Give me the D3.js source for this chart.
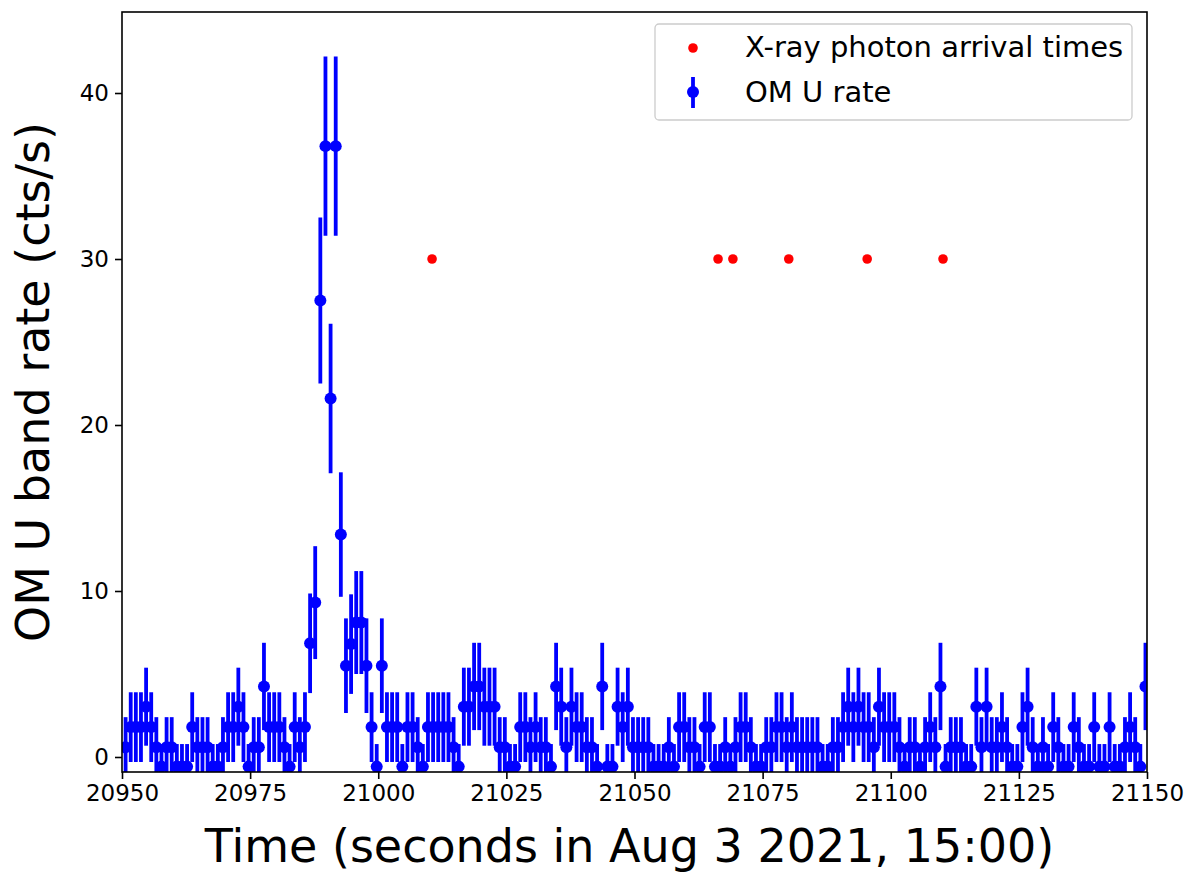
<!DOCTYPE html>
<html>
<head>
<meta charset="utf-8">
<script src="https://cdn.jsdelivr.net/npm/d3@7"></script>
<style>
  html, body { margin: 0; padding: 0; background: #fff; }
  svg { display: block; font-family: "DejaVu Sans", sans-serif; }
</style>
</head>
<body>
<svg id="chart" width="1200" height="888"></svg>
<script>
// ---- data ----
const omTime = [
  20950.7,20951.7,20952.7,20953.7,20954.7,20955.7,20956.7,20957.7,20958.7,20959.7,
  20960.7,20961.7,20962.7,20963.7,20964.7,20965.7,20966.7,20967.7,20968.7,20969.7,
  20970.7,20971.7,20972.7,20973.7,20974.7,20975.7,20976.7,20977.7,20978.7,20979.7,
  20980.7,20981.7,20982.7,20983.7,20984.7,20985.7,20986.7,20987.7,20988.7,20989.7,
  20990.7,20991.7,20992.7,20993.7,20994.7,20995.7,20996.7,20997.7,20998.7,20999.7,
  21000.7,21001.7,21002.7,21003.7,21004.7,21005.7,21006.7,21007.7,21008.7,21009.7,
  21010.7,21011.7,21012.7,21013.7,21014.7,21015.7,21016.7,21017.7,21018.7,21019.7,
  21020.7,21021.7,21022.7,21023.7,21024.7,21025.7,21026.7,21027.7,21028.7,21029.7,
  21030.7,21031.7,21032.7,21033.7,21034.7,21035.7,21036.7,21037.7,21038.7,21039.7,
  21040.7,21041.7,21042.7,21043.7,21044.7,21045.7,21046.7,21047.7,21048.7,21049.7,
  21050.7,21051.7,21052.7,21053.7,21054.7,21055.7,21056.7,21057.7,21058.7,21059.7,
  21060.7,21061.7,21062.7,21063.7,21064.7,21065.7,21066.7,21067.7,21068.7,21069.7,
  21070.7,21071.7,21072.7,21073.7,21074.7,21075.7,21076.7,21077.7,21078.7,21079.7,
  21080.7,21081.7,21082.7,21083.7,21084.7,21085.7,21086.7,21087.7,21088.7,21089.7,
  21090.7,21091.7,21092.7,21093.7,21094.7,21095.7,21096.7,21097.7,21098.7,21099.7,
  21100.7,21101.7,21102.7,21103.7,21104.7,21105.7,21106.7,21107.7,21108.7,21109.7,
  21110.7,21111.7,21112.7,21113.7,21114.7,21115.7,21116.7,21117.7,21118.7,21119.7,
  21120.7,21121.7,21122.7,21123.7,21124.7,21125.7,21126.7,21127.7,21128.7,21129.7,
  21130.7,21131.7,21132.7,21133.7,21134.7,21135.7,21136.7,21137.7,21138.7,21139.7,
  21140.7,21141.7,21142.7,21143.7,21144.7,21145.7,21146.7,21147.7,21148.7,21149.7
];
const omRate = [
  0.58,1.8,1.8,1.8,3.03,1.8,0.58,-0.58,0.58,0.58,
  -0.58,-0.58,-0.58,1.8,0.58,0.58,0.58,-0.58,-0.58,0.58,
  1.8,1.8,3.03,1.8,-0.58,0.58,0.58,4.25,1.8,1.8,
  1.8,0.58,-0.58,1.8,0.58,1.8,6.85,9.3,27.5,36.8,
  21.6,36.8,13.4,5.5,6.8,8.1,8.1,5.5,1.8,-0.58,
  5.5,1.8,1.8,1.8,-0.58,1.8,1.8,0.58,-0.58,1.8,
  1.8,1.8,1.8,1.8,0.58,-0.58,3.03,3.03,4.25,4.25,
  3.03,3.03,3.03,0.58,0.58,-0.58,-0.58,1.8,1.8,0.58,
  1.8,0.58,0.58,-0.58,4.25,3.03,0.58,3.03,1.8,1.8,
  0.58,0.58,-0.58,4.25,-0.58,-0.58,3.03,1.8,3.03,0.58,
  0.58,0.58,0.58,-0.58,-0.58,-0.58,0.58,-0.58,1.8,1.8,
  0.58,0.58,-0.58,1.8,1.8,-0.58,-0.58,0.58,-0.58,0.58,
  1.8,1.8,0.58,-0.58,-0.58,0.58,0.58,1.8,1.8,0.58,
  1.8,0.58,0.58,0.58,0.58,0.58,-0.58,-0.58,0.58,0.58,
  1.8,3.03,1.8,3.03,1.8,1.8,0.58,3.03,1.8,1.8,
  1.8,0.58,-0.58,0.58,0.58,-0.58,0.58,1.8,0.58,4.25,
  -0.58,0.58,0.58,0.58,-0.58,-0.58,3.03,0.58,3.03,0.58,
  0.58,1.8,0.58,-0.58,-0.58,1.8,3.03,0.58,-0.58,0.58,
  -0.58,1.8,0.58,-0.58,-0.58,1.8,0.58,-0.58,-0.58,1.8,
  -0.58,-0.58,1.8,-0.58,-0.58,0.58,1.8,0.58,-0.58,4.25
];
const omErr = [
  1.82,2.1,2.1,2.1,2.35,2.1,1.82,1.36,1.82,1.82,
  1.36,1.36,1.36,2.1,1.82,1.82,1.82,1.36,1.36,1.82,
  2.1,2.1,2.35,2.1,1.36,1.82,1.82,2.63,2.1,2.1,
  2.1,1.82,1.36,2.1,1.82,2.1,3.0,3.4,5.0,5.4,
  4.5,5.4,3.75,2.85,3.0,3.1,3.1,2.85,2.1,1.36,
  2.85,2.1,2.1,2.1,1.36,2.1,2.1,1.82,1.36,2.1,
  2.1,2.1,2.1,2.1,1.82,1.36,2.35,2.35,2.63,2.63,
  2.35,2.35,2.35,1.82,1.82,1.36,1.36,2.1,2.1,1.82,
  2.1,1.82,1.82,1.36,2.63,2.35,1.82,2.35,2.1,2.1,
  1.82,1.82,1.36,2.63,1.36,1.36,2.35,2.1,2.35,1.82,
  1.82,1.82,1.82,1.36,1.36,1.36,1.82,1.36,2.1,2.1,
  1.82,1.82,1.36,2.1,2.1,1.36,1.36,1.82,1.36,1.82,
  2.1,2.1,1.82,1.36,1.36,1.82,1.82,2.1,2.1,1.82,
  2.1,1.82,1.82,1.82,1.82,1.82,1.36,1.36,1.82,1.82,
  2.1,2.35,2.1,2.35,2.1,2.1,1.82,2.35,2.1,2.1,
  2.1,1.82,1.36,1.82,1.82,1.36,1.82,2.1,1.82,2.63,
  1.36,1.82,1.82,1.82,1.36,1.36,2.35,1.82,2.35,1.82,
  1.82,2.1,1.82,1.36,1.36,2.1,2.35,1.82,1.36,1.82,
  1.36,2.1,1.82,1.36,1.36,2.1,1.82,1.36,1.36,2.1,
  1.36,1.36,2.1,1.36,1.36,1.82,2.1,1.82,1.36,2.63
];
const xrayTime = [21010.5, 21066.3, 21069.2, 21080.1, 21095.4, 21110.2];
const xrayLevel = [30, 30, 30, 30, 30, 30];
const xTicks = [20950, 20975, 21000, 21025, 21050, 21075, 21100, 21125, 21150];
const yTicks = [0, 10, 20, 30, 40];
const legendLabels = ["X-ray photon arrival times", "OM U rate"];

// ---- layout ----
const svg = d3.select("#chart");
const L = 122, R = 1147, T = 12, B = 772;
const x = d3.scaleLinear().domain([20950, 21150]).range([L, R]);
const y = d3.scaleLinear().domain([-0.904, 44.88]).range([B, T]);

svg.append("defs").append("clipPath").attr("id", "plotclip")
  .append("rect").attr("x", L).attr("y", T).attr("width", R - L).attr("height", B - T);

const plot = svg.append("g").attr("clip-path", "url(#plotclip)");
const om = omTime.map((t, i) => ({ t, v: omRate[i], e: omErr[i] }));

plot.selectAll("line.eb").data(om).enter().append("line")
  .attr("class", "eb")
  .attr("x1", d => x(d.t)).attr("x2", d => x(d.t))
  .attr("y1", d => y(d.v - d.e)).attr("y2", d => y(d.v + d.e))
  .attr("stroke", "#0000ff").attr("stroke-width", 3.8);

plot.selectAll("circle.om").data(om).enter().append("circle")
  .attr("class", "om")
  .attr("cx", d => x(d.t)).attr("cy", d => y(d.v)).attr("r", 6)
  .attr("fill", "#0000ff");

plot.selectAll("circle.xr").data(xrayTime).enter().append("circle")
  .attr("class", "xr")
  .attr("cx", d => x(d)).attr("cy", (d, i) => y(xrayLevel[i])).attr("r", 4.8)
  .attr("fill", "#ff0000");

// axes
const xAxis = d3.axisBottom(x).tickValues(xTicks).tickSize(7).tickPadding(6).tickFormat(d3.format("d"));
const yAxis = d3.axisLeft(y).tickValues(yTicks).tickSize(7).tickPadding(6).tickFormat(d3.format("d"));

const gx = svg.append("g").attr("transform", `translate(0,${B})`).call(xAxis);
const gy = svg.append("g").attr("transform", `translate(${L},0)`).call(yAxis);
[gx, gy].forEach(g => {
  g.select(".domain").remove();
  g.selectAll(".tick line").attr("stroke", "#000").attr("stroke-width", 1.6);
  g.selectAll(".tick text").attr("fill", "#000").style("font-size", "23px")
    .style("font-family", "'DejaVu Sans', sans-serif");
});

svg.append("rect").attr("x", L).attr("y", T).attr("width", R - L).attr("height", B - T)
  .attr("fill", "none").attr("stroke", "#000").attr("stroke-width", 1.6);

// axis labels
svg.append("text").attr("x", (L + R) / 2 - 5).attr("y", 862)
  .attr("text-anchor", "middle").style("font-size", "46px").attr("fill", "#000")
  .text("Time (seconds in Aug 3 2021, 15:00)");
svg.append("text").attr("transform", `translate(49,${(T + B) / 2 - 10}) rotate(-90)`)
  .attr("text-anchor", "middle").style("font-size", "46px").attr("fill", "#000")
  .text("OM U band rate (cts/s)");

// legend
const lg = svg.append("g");
lg.append("rect").attr("x", 655).attr("y", 24).attr("width", 477).attr("height", 96)
  .attr("rx", 4).attr("fill", "#fff").attr("fill-opacity", 0.8)
  .attr("stroke", "#cccccc").attr("stroke-width", 1.3);
lg.append("circle").attr("cx", 693).attr("cy", 48).attr("r", 4.8).attr("fill", "#ff0000");
lg.append("line").attr("x1", 693).attr("x2", 693).attr("y1", 77).attr("y2", 108)
  .attr("stroke", "#0000ff").attr("stroke-width", 3.8);
lg.append("circle").attr("cx", 693).attr("cy", 92).attr("r", 6).attr("fill", "#0000ff");
lg.selectAll("text.lt").data(legendLabels).enter().append("text")
  .attr("class", "lt").attr("x", 745).attr("y", (d, i) => 57 + i * 45)
  .style("font-size", "29px").attr("fill", "#000").text(d => d);
</script>
</body>
</html>
